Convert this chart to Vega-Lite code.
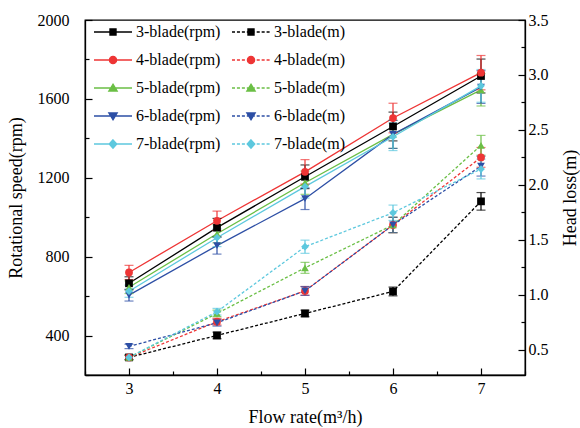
{
  "$schema": "https://vega.github.io/schema/vega-lite/v6.json",
  "width": 440,
  "height": 355,
  "autosize": {"type": "none"},
  "padding": {"left": 85, "top": 20, "right": 55, "bottom": 53},
  "background": "white",
  "config": {
    "view": {"stroke": "black", "strokeWidth": 1.3},
    "font": "Liberation Serif",
    "axis": {
      "domainColor": "black", "tickColor": "black", "labelColor": "black", "titleColor": "black",
      "labelFont": "Liberation Serif", "titleFont": "Liberation Serif",
      "labelFontSize": 16, "titleFontSize": 18, "titleFontWeight": "normal",
      "grid": false, "domainWidth": 1.3, "tickWidth": 1.2
    },
    "legend": {"labelFont": "Liberation Serif", "labelFontSize": 16, "labelColor": "black"}
  },
  "datasets": {
    "d": [
      {"blade": "3-blade", "flow": 3, "rpm": 665, "rpmErr": 33, "head": 0.43, "headErr": 0.02},
      {"blade": "3-blade", "flow": 4, "rpm": 947, "rpmErr": 47, "head": 0.63, "headErr": 0.03},
      {"blade": "3-blade", "flow": 5, "rpm": 1205, "rpmErr": 60, "head": 0.83, "headErr": 0.03},
      {"blade": "3-blade", "flow": 6, "rpm": 1460, "rpmErr": 73, "head": 1.03, "headErr": 0.04},
      {"blade": "3-blade", "flow": 7, "rpm": 1716, "rpmErr": 86, "head": 1.85, "headErr": 0.08},
      {"blade": "4-blade", "flow": 3, "rpm": 720, "rpmErr": 36, "head": 0.43, "headErr": 0.02},
      {"blade": "4-blade", "flow": 4, "rpm": 982, "rpmErr": 49, "head": 0.755, "headErr": 0.03},
      {"blade": "4-blade", "flow": 5, "rpm": 1230, "rpmErr": 62, "head": 1.035, "headErr": 0.04},
      {"blade": "4-blade", "flow": 6, "rpm": 1503, "rpmErr": 75, "head": 1.635, "headErr": 0.07},
      {"blade": "4-blade", "flow": 7, "rpm": 1733, "rpmErr": 87, "head": 2.25, "headErr": 0.09},
      {"blade": "5-blade", "flow": 3, "rpm": 645, "rpmErr": 32, "head": 0.43, "headErr": 0.02},
      {"blade": "5-blade", "flow": 4, "rpm": 916, "rpmErr": 46, "head": 0.83, "headErr": 0.03},
      {"blade": "5-blade", "flow": 5, "rpm": 1175, "rpmErr": 59, "head": 1.245, "headErr": 0.05},
      {"blade": "5-blade", "flow": 6, "rpm": 1420, "rpmErr": 71, "head": 1.635, "headErr": 0.07},
      {"blade": "5-blade", "flow": 7, "rpm": 1646, "rpmErr": 82, "head": 2.36, "headErr": 0.09},
      {"blade": "6-blade", "flow": 3, "rpm": 605, "rpmErr": 30, "head": 0.53, "headErr": 0.02},
      {"blade": "6-blade", "flow": 4, "rpm": 856, "rpmErr": 43, "head": 0.745, "headErr": 0.03},
      {"blade": "6-blade", "flow": 5, "rpm": 1094, "rpmErr": 55, "head": 1.035, "headErr": 0.04},
      {"blade": "6-blade", "flow": 6, "rpm": 1420, "rpmErr": 71, "head": 1.635, "headErr": 0.07},
      {"blade": "6-blade", "flow": 7, "rpm": 1660, "rpmErr": 83, "head": 2.17, "headErr": 0.09},
      {"blade": "7-blade", "flow": 3, "rpm": 625, "rpmErr": 31, "head": 0.43, "headErr": 0.02},
      {"blade": "7-blade", "flow": 4, "rpm": 896, "rpmErr": 45, "head": 0.846, "headErr": 0.03},
      {"blade": "7-blade", "flow": 5, "rpm": 1155, "rpmErr": 58, "head": 1.437, "headErr": 0.06},
      {"blade": "7-blade", "flow": 6, "rpm": 1408, "rpmErr": 70, "head": 1.746, "headErr": 0.07},
      {"blade": "7-blade", "flow": 7, "rpm": 1666, "rpmErr": 83, "head": 2.144, "headErr": 0.09}
    ],
    "leg": [
      {"label": "3-blade(rpm)"}, {"label": "3-blade(m)"},
      {"label": "4-blade(rpm)"}, {"label": "4-blade(m)"},
      {"label": "5-blade(rpm)"}, {"label": "5-blade(m)"},
      {"label": "6-blade(rpm)"}, {"label": "6-blade(m)"},
      {"label": "7-blade(rpm)"}, {"label": "7-blade(m)"}
    ]
  },
  "layer": [
    {
      "data": {"name": "d"},
      "encoding": {
        "x": {"field": "flow", "type": "quantitative",
          "scale": {"domain": [2.5, 7.5], "nice": false, "zero": false},
          "axis": {"title": "Flow rate(m³/h)", "values": [2.5, 3, 3.5, 4, 4.5, 5, 5.5, 6, 6.5, 7, 7.5],
            "labelExpr": "datum.value % 1 == 0 ? '' + datum.value : ''",
            "tickSize": {"condition": {"test": "datum.value % 1 != 0", "value": -4}, "value": -7},
            "labelPadding": 12, "titlePadding": 9, "labelFlush": false, "labelOverlap": false}},
        "y": {"field": "rpm", "type": "quantitative",
          "scale": {"domain": [200, 2000], "nice": false, "zero": false},
          "axis": {"title": "Rotational speed(rpm)", "orient": "left",
            "values": [200, 400, 600, 800, 1000, 1200, 1400, 1600, 1800, 2000],
            "labelExpr": "datum.value % 400 == 0 ? '' + datum.value : ''",
            "tickSize": {"condition": {"test": "datum.value % 400 != 0", "value": -4}, "value": -7},
            "labelPadding": 23, "titlePadding": 12, "labelFlush": false, "labelOverlap": false}},
        "color": {"field": "blade", "type": "nominal",
          "scale": {"domain": ["3-blade", "4-blade", "5-blade", "6-blade", "7-blade"],
            "range": ["#000000", "#EE3535", "#6BBF45", "#2D4FA5", "#5DC8DE"]}, "legend": null}
      },
      "layer": [
        {"mark": {"type": "line", "strokeWidth": 1.3}},
        {"mark": {"type": "errorbar", "ticks": {"size": 9}, "thickness": 1.2}, "encoding": {"yError": {"field": "rpmErr"}}},
        {"mark": {"type": "point", "filled": true, "opacity": 1, "size": 60},
          "encoding": {"shape": {"field": "blade", "type": "nominal",
            "scale": {"domain": ["3-blade", "4-blade", "5-blade", "6-blade", "7-blade"],
              "range": ["square", "circle", "triangle-up", "triangle-down", "diamond"]}, "legend": null}}}
      ]
    },
    {
      "data": {"name": "d"},
      "encoding": {
        "x": {"field": "flow", "type": "quantitative",
          "scale": {"domain": [2.5, 7.5], "nice": false, "zero": false},
          "axis": {"title": "Flow rate(m³/h)", "values": [2.5, 3, 3.5, 4, 4.5, 5, 5.5, 6, 6.5, 7, 7.5],
            "labelExpr": "datum.value % 1 == 0 ? '' + datum.value : ''",
            "tickSize": {"condition": {"test": "datum.value % 1 != 0", "value": -4}, "value": -7},
            "labelPadding": 12, "titlePadding": 9, "labelFlush": false, "labelOverlap": false}},
        "y": {"field": "head", "type": "quantitative",
          "scale": {"domain": [0.27, 3.5], "nice": false, "zero": false},
          "axis": {"title": "Head loss(m)", "orient": "right", "format": ".1f", "titleAngle": 270,
            "values": [0.5, 0.75, 1, 1.25, 1.5, 1.75, 2, 2.25, 2.5, 2.75, 3, 3.25, 3.5],
            "labelExpr": "datum.value % 0.5 == 0 ? datum.label : ''",
            "tickSize": {"condition": {"test": "datum.value % 0.5 != 0", "value": -4}, "value": -7},
            "labelPadding": 10, "titlePadding": 31, "labelFlush": false, "labelOverlap": false}},
        "color": {"field": "blade", "type": "nominal",
          "scale": {"domain": ["3-blade", "4-blade", "5-blade", "6-blade", "7-blade"],
            "range": ["#000000", "#EE3535", "#6BBF45", "#2D4FA5", "#5DC8DE"]}, "legend": null}
      },
      "layer": [
        {"mark": {"type": "line", "strokeWidth": 1.3, "strokeDash": [3, 2]}},
        {"mark": {"type": "errorbar", "ticks": {"size": 9}, "thickness": 1.2}, "encoding": {"yError": {"field": "headErr"}}},
        {"mark": {"type": "point", "filled": true, "opacity": 1, "size": 60},
          "encoding": {"shape": {"field": "blade", "type": "nominal",
            "scale": {"domain": ["3-blade", "4-blade", "5-blade", "6-blade", "7-blade"],
              "range": ["square", "circle", "triangle-up", "triangle-down", "diamond"]}, "legend": null}}}
      ]
    },
    {
      "data": {"name": "leg"},
      "mark": {"type": "point", "filled": true, "opacity": 0, "strokeWidth": 1.3},
      "encoding": {
        "fill": {"field": "label", "type": "nominal",
          "scale": {"domain": ["3-blade(rpm)", "3-blade(m)", "4-blade(rpm)", "4-blade(m)", "5-blade(rpm)", "5-blade(m)", "6-blade(rpm)", "6-blade(m)", "7-blade(rpm)", "7-blade(m)"],
            "range": ["#000000", "#000000", "#EE3535", "#EE3535", "#6BBF45", "#6BBF45", "#2D4FA5", "#2D4FA5", "#5DC8DE", "#5DC8DE"]},
          "legend": {"title": null, "orient": "none", "legendX": 8, "legendY": -8, "columns": 2, "direction": "horizontal",
            "symbolSize": 1444, "symbolStrokeWidth": 1.3, "symbolOpacity": 1, "labelFont": "Liberation Serif",
            "labelOffset": 3, "rowPadding": -6.7, "columnPadding": 8, "labelFontSize": 16}},
        "stroke": {"field": "label", "type": "nominal",
          "scale": {"domain": ["3-blade(rpm)", "3-blade(m)", "4-blade(rpm)", "4-blade(m)", "5-blade(rpm)", "5-blade(m)", "6-blade(rpm)", "6-blade(m)", "7-blade(rpm)", "7-blade(m)"],
            "range": ["#000000", "#000000", "#EE3535", "#EE3535", "#6BBF45", "#6BBF45", "#2D4FA5", "#2D4FA5", "#5DC8DE", "#5DC8DE"]},
          "legend": {"title": null, "orient": "none", "legendX": 8, "legendY": -8, "columns": 2, "direction": "horizontal",
            "symbolSize": 1444, "symbolStrokeWidth": 1.3, "symbolOpacity": 1, "labelFont": "Liberation Serif",
            "labelOffset": 3, "rowPadding": -6.7, "columnPadding": 8, "labelFontSize": 16}},
        "shape": {"field": "label", "type": "nominal",
          "scale": {"domain": ["3-blade(rpm)", "3-blade(m)", "4-blade(rpm)", "4-blade(m)", "5-blade(rpm)", "5-blade(m)", "6-blade(rpm)", "6-blade(m)", "7-blade(rpm)", "7-blade(m)"],
            "range": [
              "M-1,0H1M-0.16,-0.16H0.16V0.16H-0.16Z",
              "M-1,0H-0.84M-0.74,0H-0.58M-0.48,0H-0.32M-0.22,0H-0.06M0.04,0H0.2M0.3,0H0.46M0.56,0H0.72M0.82,0H0.98M-0.16,-0.16H0.16V0.16H-0.16Z",
              "M-1,0H1M0.19,0A0.19,0.19,0,1,1,-0.19,0A0.19,0.19,0,1,1,0.19,0Z",
              "M-1,0H-0.84M-0.74,0H-0.58M-0.48,0H-0.32M-0.22,0H-0.06M0.04,0H0.2M0.3,0H0.46M0.56,0H0.72M0.82,0H0.98M0.19,0A0.19,0.19,0,1,1,-0.19,0A0.19,0.19,0,1,1,0.19,0Z",
              "M-1,0H1M0,-0.2L0.22,0.16H-0.22Z",
              "M-1,0H-0.84M-0.74,0H-0.58M-0.48,0H-0.32M-0.22,0H-0.06M0.04,0H0.2M0.3,0H0.46M0.56,0H0.72M0.82,0H0.98M0,-0.2L0.22,0.16H-0.22Z",
              "M-1,0H1M0,0.2L0.22,-0.16H-0.22Z",
              "M-1,0H-0.84M-0.74,0H-0.58M-0.48,0H-0.32M-0.22,0H-0.06M0.04,0H0.2M0.3,0H0.46M0.56,0H0.72M0.82,0H0.98M0,0.2L0.22,-0.16H-0.22Z",
              "M-1,0H1M0,-0.22L0.2,0L0,0.22L-0.2,0Z",
              "M-1,0H-0.84M-0.74,0H-0.58M-0.48,0H-0.32M-0.22,0H-0.06M0.04,0H0.2M0.3,0H0.46M0.56,0H0.72M0.82,0H0.98M0,-0.22L0.2,0L0,0.22L-0.2,0Z"
            ]},
          "legend": {"title": null, "orient": "none", "legendX": 8, "legendY": -8, "columns": 2, "direction": "horizontal",
            "symbolSize": 1444, "symbolStrokeWidth": 1.3, "symbolOpacity": 1, "labelFont": "Liberation Serif",
            "labelOffset": 3, "rowPadding": -6.7, "columnPadding": 8, "labelFontSize": 16}}
      }
    }
  ],
  "resolve": {"scale": {"y": "independent", "shape": "independent", "fill": "independent", "stroke": "independent"}}
}
